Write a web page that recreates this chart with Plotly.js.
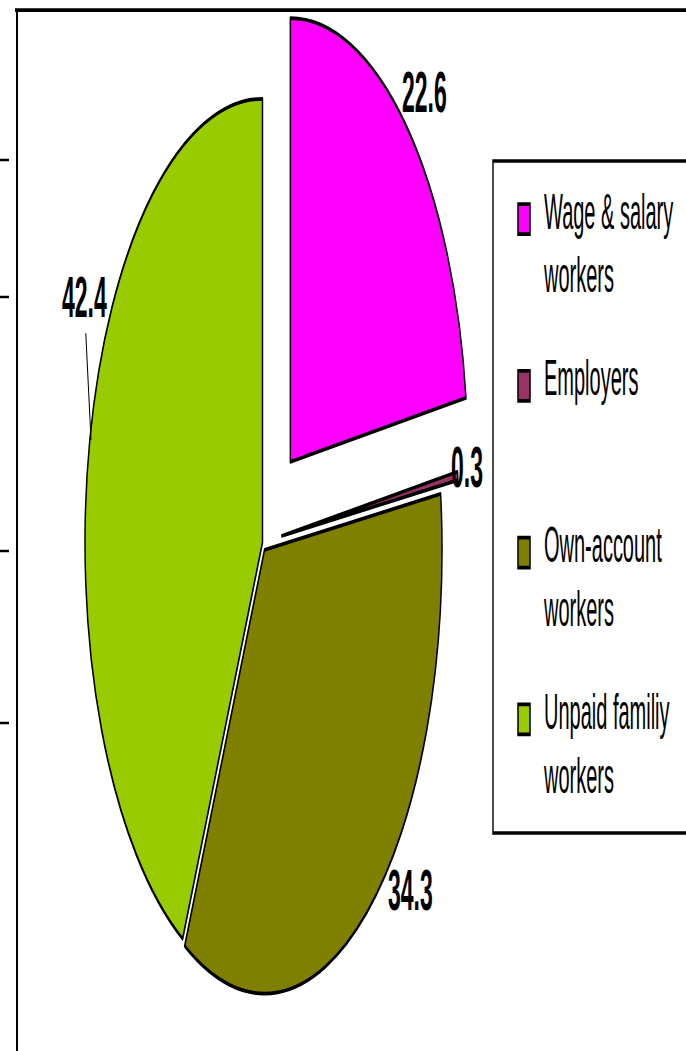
<!DOCTYPE html>
<html><head><meta charset="utf-8">
<script src="https://cdn.plot.ly/plotly-3.0.1.min.js"></script>
<style>
html,body{margin:0;padding:0;background:#fff;overflow:hidden;}
#wrap{width:686px;height:1051px;overflow:hidden;position:relative;background:#fff;}
#chart{width:686px;height:460px;transform-origin:0 0;transform:scaleY(2.5) translateY(-10px);}
</style></head><body>
<div id="wrap"><div id="chart"></div></div>
<script>
// ---- data ----
const categories = ["Wage & salary<br>workers", "Employers", "Own-account<br>workers", "Unpaid familiy<br>workers"];
const shares = [22.6, 0.3, 34.3, 42.4];
// ---- styles ----
const sliceColors = ["#FF00FF", "#993366", "#808000", "#99CC00"];
const slicePull = [0.24, 0.11, 0.02, 0];
const FONT = "Liberation Sans, Arial, Helvetica, sans-serif";
// label placement (final-pixel centres)
const labelPos = [[424, 92], [467, 467], [410, 889], [84, 297]];

// legend entries: text lines on rows 1 and 3 of a 5-row block
const legendLabels = categories.map(c => {
  const parts = c.split("<br>");
  const big = t => "<span style='font-size:20px'>" + t + "</span>";
  return big(parts[0]) + "<br>&nbsp;<br>" + (parts[1] ? big(parts[1]) : "&nbsp;") + "<br>&nbsp;<br>&nbsp;";
});

const W = 686, H = 460;
const px = x => x / W;
const py = y => 1 - y / H;
const fy = yf => yf / 2.5 + 10; // final pixel row -> layout pixel row

const trace = {
  type: "pie",
  labels: legendLabels,
  values: shares,
  sort: false,
  direction: "clockwise",
  rotation: 0,
  pull: slicePull,
  marker: {colors: sliceColors, line: {color: "#000", width: 1.5}},
  textinfo: "none",
  domain: {x: [0.0618, 0.7035], y: [0.0280, 0.9850]},
  hoverinfo: "none"
};

const shapes = [
  {type: "line", xref: "paper", yref: "paper", x0: px(15), x1: px(700), y0: py(fy(10)), y1: py(fy(10)), line: {color: "#000", width: 1.5}},
  {type: "line", xref: "paper", yref: "paper", x0: px(17), x1: px(17), y0: py(fy(9)), y1: py(fy(1060)), line: {color: "#000", width: 2}},
  {type: "rect", xref: "paper", yref: "paper", x0: px(493), x1: px(720), y0: py(fy(161)), y1: py(fy(833)), line: {color: "#000", width: 1.4}}
];
[160, 297, 551, 723].forEach(yf => shapes.push({
  type: "line", xref: "paper", yref: "paper", x0: px(0), x1: px(9), y0: py(fy(yf)), y1: py(fy(yf)), line: {color: "#000", width: 1}
}));

const annotations = shares.map((v, i) => {
  const a = {
    xref: "paper", yref: "paper",
    x: px(labelPos[i][0]), y: py(fy(labelPos[i][1])),
    xanchor: "center", yanchor: "middle",
    text: String(v), showarrow: false,
    font: {family: FONT, size: 23, color: "#000", weight: "bold"}
  };
  if (i === 3) {
    Object.assign(a, {
      x: px(91), y: py(fy(440)), xanchor: "auto", yanchor: "auto",
      showarrow: true, arrowhead: 0, arrowwidth: 1, arrowcolor: "#000",
      ax: labelPos[i][0] - 91, ay: fy(labelPos[i][1]) - fy(440)
    });
  }
  return a;
});

const layout = {
  width: W, height: H,
  margin: {l: 0, r: 0, t: 0, b: 0, autoexpand: false},
  paper_bgcolor: "#fff", plot_bgcolor: "#fff",
  showlegend: true,
  legend: {
    x: px(504), y: py(fy(187)), xanchor: "left", yanchor: "top",
    font: {family: FONT, size: 9.8, color: "#000"},
    valign: "top", bgcolor: "rgba(0,0,0,0)", borderwidth: 0
  },
  shapes: shapes,
  annotations: annotations
};

Plotly.newPlot("chart", [trace], layout, {staticPlot: true, displayModeBar: false});
</script>
</body></html>
